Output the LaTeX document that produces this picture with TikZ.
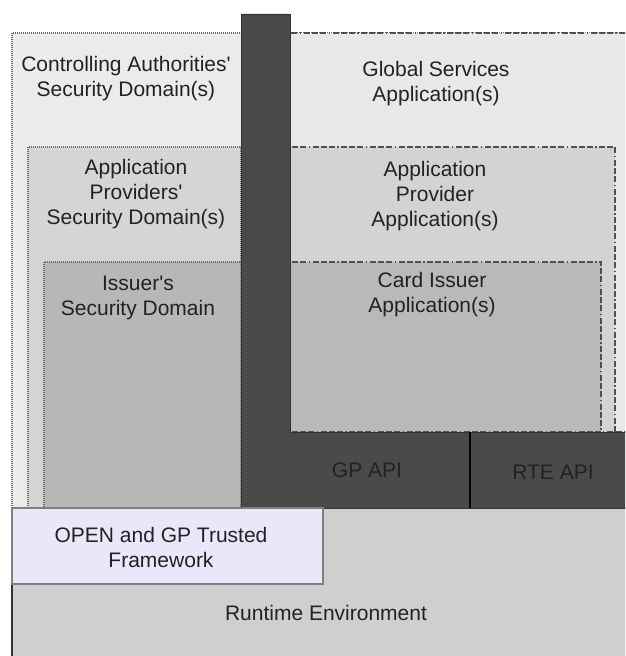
\documentclass[tikz,border=0pt]{standalone}
\usepackage{fontspec}
\newfontfamily\lsans{Liberation Sans}
\definecolor{txt}{HTML}{222222}
\definecolor{cafill}{HTML}{EBEBEB}
\definecolor{gsfill}{HTML}{E8E8E8}
\definecolor{apsdfill}{HTML}{D5D5D5}
\definecolor{apafill}{HTML}{D3D3D3}
\definecolor{isdfill}{HTML}{B7B7B7}
\definecolor{cifill}{HTML}{B9B9B9}
\definecolor{darkfill}{HTML}{4A4A4A}
\definecolor{rtefill}{HTML}{CFCFCF}
\definecolor{openfill}{HTML}{E8E8FA}
\definecolor{dotc}{HTML}{6A6A6A}
\definecolor{dashc}{HTML}{505050}
\definecolor{edgec}{HTML}{333333}
\begin{document}
\begin{tikzpicture}[x=0.75pt,y=-0.75pt,
  lbl/.style={font=\lsans\fontsize{15.75}{18.75}\selectfont, text=txt, align=center, inner sep=0pt},
  dotb/.style={draw=dotc, line width=0.9pt, dash pattern=on 0.75pt off 0.75pt},
  dashdot/.style={draw=dashc, line width=1pt, dash pattern=on 4.5pt off 1.5pt on 4.5pt off 1.5pt on 4.5pt off 2pt on 1pt off 2pt}]
\useasboundingbox (0,0) rectangle (625,656);
\clip (0,0) rectangle (625,656);
\fill[white] (0,0) rectangle (625,656);
% Runtime environment
\draw[fill=rtefill, draw=edgec, line width=0.9pt] (12,508) rectangle (640,670);
% Controlling Authorities' SD
\path[fill=cafill, dotb] (12,33) rectangle (640,508);
% Global services
\path[fill=gsfill, dashdot] (290,33) rectangle (640,432);
% Application Providers' SD
\path[fill=apsdfill, dotb] (28,147) rectangle (241,508);
% Application Provider Applications
\path[fill=apafill, dashdot] (290,147) rectangle (615,432);
% Issuer's SD
\path[fill=isdfill, dotb] (44,262) rectangle (241,508);
% Card issuer applications
\path[fill=cifill, dashdot] (290,262) rectangle (601,432);
% dark API L-shape
\path[fill=darkfill, draw=edgec, line width=0.6pt] (241,14) -- (290,14) -- (290,432) -- (640,432) -- (640,508) -- (241,508) -- cycle;
\draw[black, line width=0.9pt] (470,432) -- (470,508);
% OPEN framework
\draw[fill=openfill, draw=gray, line width=1pt] (12,508) rectangle (323,584);
% labels
\node[lbl] (ca) at (126,78.5) {Controlling Authorities'\\Security Domain(s)};
\node[lbl] (gs) at (436,84) {Global Services\\Application(s)};
\node[lbl] (apsd) at (136,194) {Application\\Providers'\\Security Domain(s)};
\node[lbl] (apa) at (435,196) {Application\\Provider\\Application(s)};
\node[lbl] (isd) at (138,298) {Issuer's\\Security Domain};
\node[lbl] (ci) at (432,295) {Card Issuer\\Application(s)};
\node[lbl] (gp) at (367,470) {GP API};
\node[lbl] (rte) at (553,472) {RTE API};
\node[lbl] (open) at (161,547) {OPEN and GP Trusted\\Framework};
\node[lbl] (rt) at (326,613) {Runtime Environment};
\end{tikzpicture}
\end{document}
